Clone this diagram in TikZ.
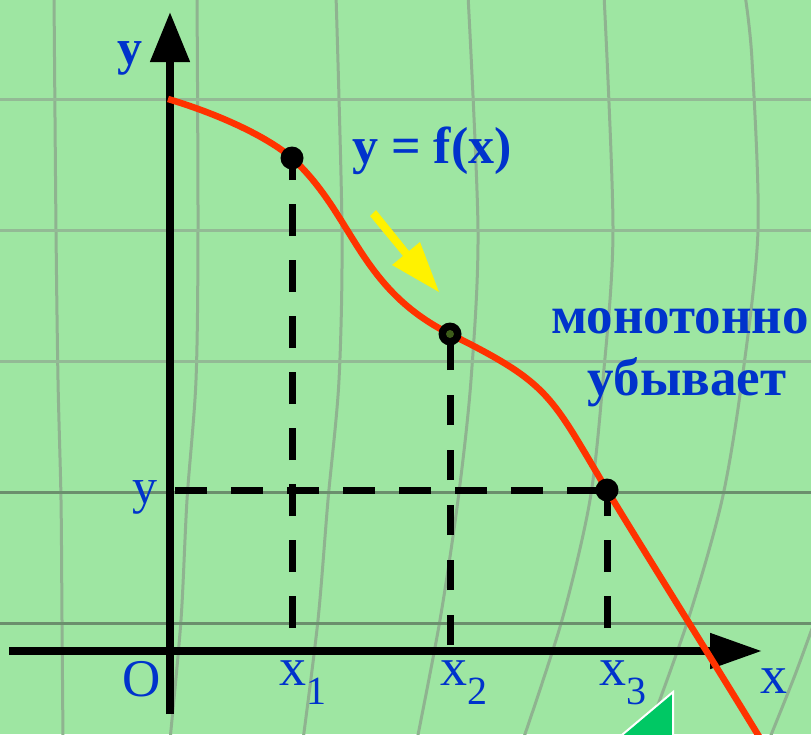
\documentclass[tikz,border=0pt]{standalone}
\usepackage{fontspec}
\setmainfont{Liberation Serif}
\usetikzlibrary{arrows.meta}
\definecolor{bg}{HTML}{9EE6A2}
\definecolor{gridlt}{HTML}{93BA95}
\definecolor{gridvt}{HTML}{8FB390}
\definecolor{griddk}{HTML}{6B8F6D}
\definecolor{curvecol}{HTML}{FF3300}
\definecolor{lblblue}{HTML}{0033CC}
\definecolor{trigreen}{HTML}{00C864}
\definecolor{ptcenter}{HTML}{3D5C1A}
\newcommand\fszA{\fontsize{50}{60}\selectfont}
\newcommand\fszF{\fontsize{52}{60}\selectfont}
\newcommand\fszB{\fontsize{53}{62}\selectfont}
\newcommand\fszC{\fontsize{54}{64}\selectfont}
\newcommand\fszSub{\fontsize{40}{44}\selectfont}
\begin{document}
\begin{tikzpicture}[x=1pt,y=-1pt,
  gridv/.style={draw=gridvt,line width=3pt},
  gridh/.style={draw=gridlt,line width=3pt},
  gridhd/.style={draw=griddk,line width=3pt},
  axis/.style={line width=8pt},
  dashline/.style={line width=7pt,dash pattern=on 32pt off 24pt},
  dashlineb/.style={line width=7pt,dash pattern=on 30pt off 25pt},
  curve/.style={draw=curvecol,line width=6.5pt,line join=round},
  pt/.style={circle,fill=black,inner sep=0pt,minimum size=23pt},
  lbl/.style={text=lblblue,inner sep=0pt}]
\useasboundingbox (0,0) rectangle (811,734);
\clip (0,0) rectangle (811,734);
\fill[bg] (0,0) rectangle (811,734);
% grid
\draw[gridv] plot[smooth] coordinates {(54,-5) (56,230) (58,380) (61,500) (62,620) (63,740)};
\draw[gridv] plot[smooth] coordinates {(197,-5) (198,230) (196,380) (187,500) (181,620) (170,740)};
\draw[gridv] plot[smooth] coordinates {(336,-5) (342,230) (339,380) (328,500) (318,620) (303,740)};
\draw[gridv] plot[smooth] coordinates {(468,-5) (478,230) (471,380) (458,500) (440,620) (417,740)};
\draw[gridv] plot[smooth] coordinates {(604,-5) (613,230) (603,380) (590,500) (562,620) (523,740)};
\draw[gridv] plot[smooth] coordinates {(745,-5) (752,60) (758,230) (742,380) (722,500) (688,620) (645,740)};
\draw[gridv] plot[smooth] coordinates {(818,612) (795,675) (769,740)};
\draw[gridh] (0,99) -- (811,99);
\draw[gridh] (0,230) -- (811,230);
\draw[gridh] (0,361) -- (811,361);
\draw[gridhd] (0,492) -- (811,492);
\draw[gridhd] (0,623) -- (811,623);
% green triangle
\fill[trigreen,draw=white,line width=2pt] (673,692) -- (673,745) -- (610,745) -- cycle;
% points (coordinates)
\coordinate (c1) at (292,158);
\coordinate (c2) at (450,334);
\coordinate (c3) at (607,490);
\coordinate (f1) at (292,628);
\coordinate (f2) at (450,645);
\coordinate (f3) at (607,628);
\coordinate (hy) at (175,490);
\coordinate (cs) at (168,99);
\coordinate (ce) at (766,748);
% dashed lines
\draw[dashline] (f1) -- (c1);
\draw[dashlineb] (f2) -- (c2);
\draw[dashline] (f3) -- (c3);
\draw[dashline] (hy) -- (c3);
% axes
\coordinate (xs) at (9,651);
\coordinate (xe) at (762,651);
\coordinate (ys) at (170,714);
\coordinate (ye) at (170,12);
\draw[axis,-{Triangle[length=52pt,width=34pt]}] (xs) -- (xe);
\draw[axis,-{Triangle[length=50pt,width=38pt]}] (ys) -- (ye);
% curve
\draw[curve] (cs) .. controls (215,113) and (265,135) .. (c1)
  .. controls (354,215) and (358,288) .. (c2)
  .. controls (551,384) and (550,395) .. (c3)
  .. controls (645,553) and (725,680) .. (ce);
% points
\node[pt] (p1) at (c1) {};
\node[pt] (p2) at (c2) {};
\node[pt] (p3) at (c3) {};
\fill[ptcenter] (p2.center) circle (4pt);
% yellow arrow
\fill[yellow] (376,210) -- (409,251) -- (420,242) -- (439,292) -- (392,265) -- (403,256) -- (370,216) -- cycle;
% labels
\node[lbl,font=\bfseries\fszA,anchor=base] (ylab) at (130,64) {y};
\node[lbl,font=\bfseries\fszF,anchor=base west] (fx) at (352,163) {y = f(x)};
\node[lbl,font=\bfseries\fszB,anchor=base] (mono) at (680,333) {монотонно};
\node[lbl,font=\bfseries\fszB,anchor=base] (ub) at (687,395) {убывает};
\node[lbl,font=\fszA,anchor=base] (ylev) at (145,503) {y};
\node[lbl,font=\fszB,anchor=base] (olab) at (142,696) {O};
\node[lbl,font=\fszC,anchor=base west] (x1) at (279,685) {x\raisebox{-19pt}{\fszSub 1}};
\node[lbl,font=\fszC,anchor=base west] (x2) at (440,685) {x\raisebox{-19pt}{\fszSub 2}};
\node[lbl,font=\fszC,anchor=base west] (x3) at (599,685) {x\raisebox{-19pt}{\fszSub 3}};
\node[lbl,font=\fszC,anchor=base west] (xlab) at (760,693) {x};
\end{tikzpicture}
\end{document}
